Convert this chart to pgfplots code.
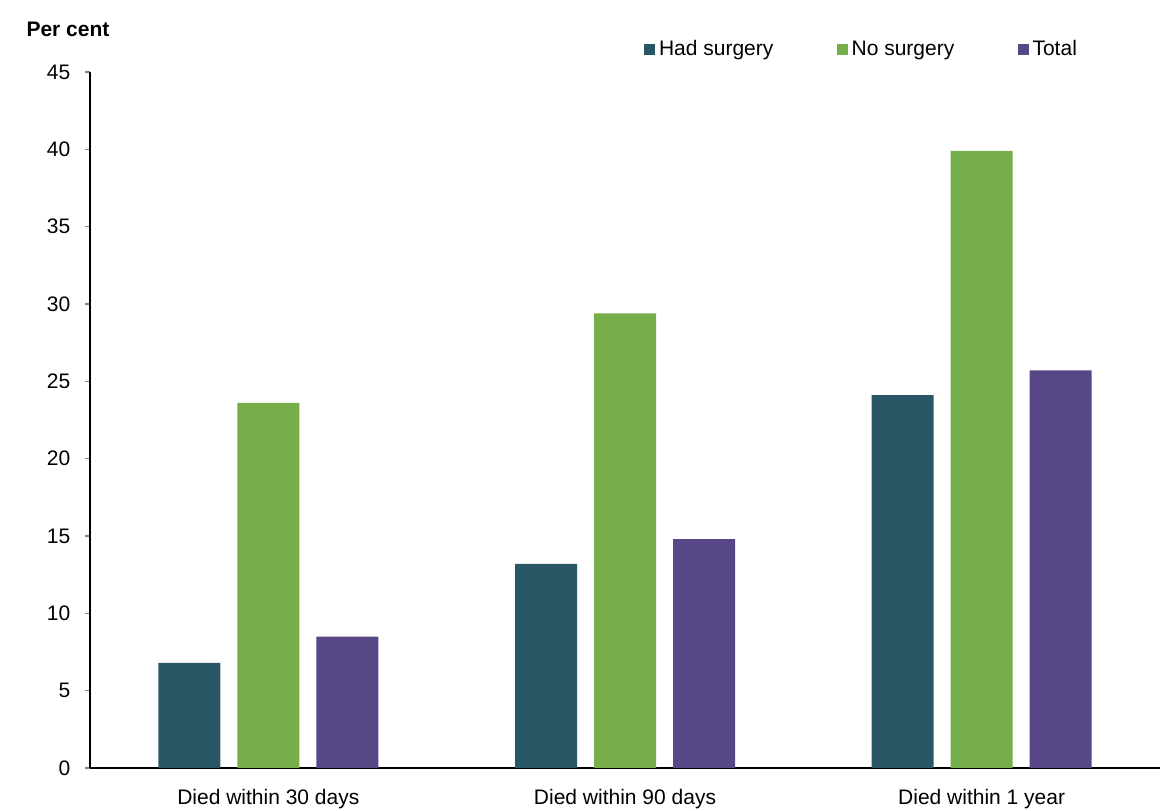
\documentclass[border=0pt]{standalone}
\usepackage{fontspec}
\setmainfont{Liberation Sans}
\usepackage{pgfplots}
\pgfplotsset{compat=1.18}
\definecolor{cHad}{RGB}{42,87,102}
\definecolor{cNo}{RGB}{118,174,74}
\definecolor{cTot}{RGB}{88,71,135}
\begin{document}
\begin{tikzpicture}
\begin{axis}[
  scale only axis,
  width=535pt, height=348pt,
  xmin=-0.5, xmax=2.5,
  ymin=0, ymax=45,
  ybar, bar width=31pt,
  axis lines=left,
  axis line style={-, line width=0.8pt},
  xtick=data,
  xticklabels={Died within 30 days, Died within 90 days, Died within 1 year},
  xtick style={draw=none},
  ytick={0,5,...,45},
  ytick style={line width=0.8pt},
  tick align=outside,
  major tick length=2.5pt,
  /pgf/number format/assume math mode=true,
  tick label style={font=\fontsize{10.5}{12}\selectfont},
  yticklabel style={xshift=-3.8pt},
  xticklabel style={yshift=-4.5pt},
  clip=false,
  legend columns=3,
  legend style={at={(rel axis cs:0.5178,1.031)}, anchor=west, draw=none, fill=none, inner sep=0pt,
    font=\fontsize{10.5}{12}\selectfont,
    nodes={inner xsep=1.8pt, text height=0.75em, text depth=0.25em, anchor=base},
    /tikz/every even column/.append style={column sep=30pt}},
  legend image code/.code={\fill[#1,draw=none] (0pt,0.3pt) rectangle (5.5pt,5.8pt);},
]
\addplot[fill=cHad, draw=none, bar shift=-39.5pt] coordinates {(0,6.8) (1,13.2) (2,24.1)};
\addplot[fill=cNo, draw=none, bar shift=0pt] coordinates {(0,23.6) (1,29.4) (2,39.9)};
\addplot[fill=cTot, draw=none, bar shift=39.5pt] coordinates {(0,8.5) (1,14.8) (2,25.7)};
\legend{Had surgery, No surgery, Total}
\node[font=\fontsize{10.5}{12}\selectfont\bfseries] at (rel axis cs:0,1) [xshift=-11pt, yshift=21.5pt] {Per cent};
\end{axis}
\pgfresetboundingbox
\path ([xshift=-45pt,yshift=-21.5pt]current axis.south west) rectangle ([yshift=36pt]current axis.north east);
\end{tikzpicture}
\end{document}
